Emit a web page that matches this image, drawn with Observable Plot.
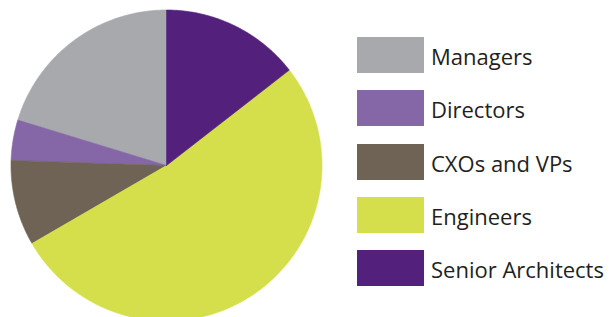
<!DOCTYPE html>
<html>
<head>
<meta charset="utf-8">
<script src="https://cdn.jsdelivr.net/npm/d3@7"></script>
<script src="https://cdn.jsdelivr.net/npm/@observablehq/plot@0.6"></script>
<style>
  html, body { margin: 0; padding: 0; background: #fff; }
  #wrap { position: relative; width: 610px; height: 317px; overflow: hidden; }
  #pie { position: absolute; left: 0; top: 0; }
  #legend { position: absolute; left: 357px; top: 37px; }
  .lg-swatches { font-family: "Open Sans", sans-serif; font-size: 22px; color: #231f20; margin: 0; }
  .lg-swatch { padding-bottom: 17.3px; }
  .lg-swatch > svg { margin-right: 7px; }
  .lg-swatch-label { line-height: 36px; position: relative; top: 1px; }
</style>
</head>
<body>
<div id="wrap"><div id="pie"></div><div id="legend"></div></div>
<script>
const categories = ["Managers", "Directors", "CXOs and VPs", "Engineers", "Senior Architects"];
const shares = [20.3, 4.2, 8.9, 52.2, 14.5];
const colors = ["#a7a9ac", "#8567a8", "#6e6355", "#d4df4b", "#53217b"];

const data = categories.map((name, i) => ({name, value: shares[i]}));
// slices run counter-clockwise from 12 o'clock in legend order
const arcs = d3.pie().sort(null).value(d => d.value).startAngle(0).endAngle(-2 * Math.PI)(data);

const pts = [];
for (const a of arcs) {
  const n = Math.max(2, Math.ceil(Math.abs(a.endAngle - a.startAngle) / (Math.PI / 360)));
  pts.push({name: a.data.name, x: 0, y: 0});
  for (let k = 0; k <= n; k++) {
    const t = a.startAngle + (a.endAngle - a.startAngle) * k / n;
    pts.push({name: a.data.name, x: Math.sin(t), y: Math.cos(t)});
  }
  pts.push({name: a.data.name, x: 0, y: 0});
}

const color = {type: "ordinal", domain: categories, range: colors};

const pie = Plot.plot({
  width: 330,
  height: 317,
  margin: 0,
  x: {domain: [-1, 1], range: [10.5, 321.5], axis: null},
  y: {domain: [-1, 1], range: [320.5, 9.5], axis: null},
  color,
  marks: [
    Plot.line(pts, {x: "x", y: "y", z: "name", fill: "name", stroke: "name", strokeWidth: 0.6, curve: "linear"})
  ]
});
document.getElementById("pie").appendChild(pie);

const legend = Plot.legend({
  color,
  legend: "swatches",
  columns: 1,
  swatchWidth: 67,
  swatchHeight: 36,
  className: "lg"
});
document.getElementById("legend").appendChild(legend);
</script>
</body>
</html>
